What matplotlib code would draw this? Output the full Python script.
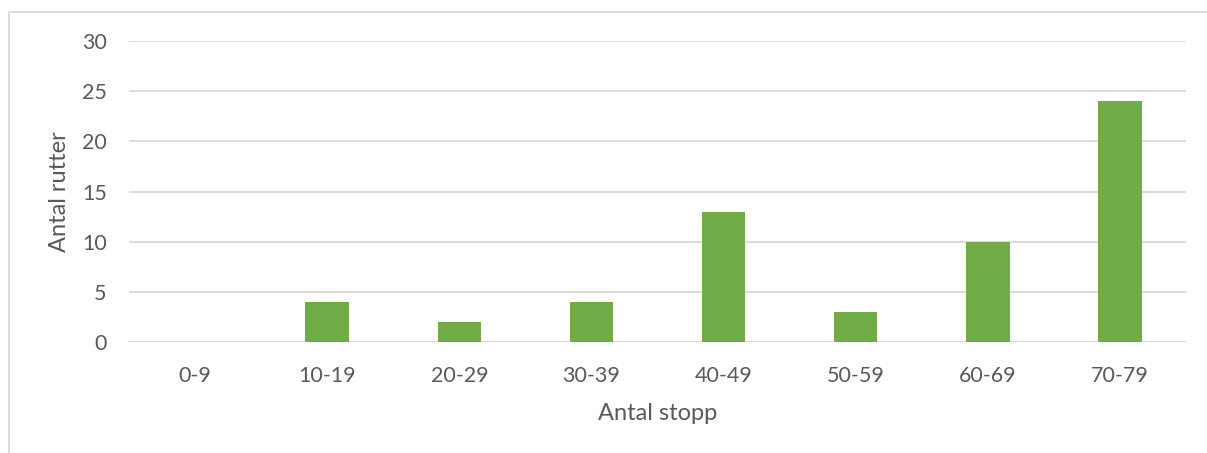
import matplotlib.pyplot as plt
from matplotlib.patches import Rectangle

# Antal rutter per intervall av stopp
kategorier = ['0-9', '10-19', '20-29', '30-39', '40-49', '50-59', '60-69', '70-79']
antal_rutter = [0, 4, 2, 4, 13, 3, 10, 24]
y_ticks = [0, 5, 10, 15, 20, 25, 30]

plt.rcParams['font.family'] = ['Lato', 'DejaVu Sans']
grå_text = '#595959'

W, H = 1207, 453
fig = plt.figure(figsize=(W / 100, H / 100), dpi=100)
ax_left, ax_right, ax_top, ax_bottom = 129, 1186, 41, 342
ax = fig.add_axes([ax_left / W, 1 - ax_bottom / H, (ax_right - ax_left) / W, (ax_bottom - ax_top) / H])

x = range(len(kategorier))
ax.bar(x, antal_rutter, width=0.33, color='#70AD47', zorder=3)

ax.set_xlim(-0.5, len(kategorier) - 0.5)
ax.set_ylim(0, 30)
ax.set_yticks(y_ticks)
ax.set_xticks(list(x))
ax.set_xticklabels(kategorier)
ax.grid(axis='y', color='#D9D9D9', linewidth=1.3, zorder=0)
ax.tick_params(length=0, labelsize=15.5, colors=grå_text)
ax.tick_params(axis='x', pad=17)
ax.tick_params(axis='y', pad=16)
for s in ax.spines.values():
    s.set_visible(False)

ax.set_xlabel('Antal stopp', fontsize=17, color=grå_text, va='center')
ax.set_ylabel('Antal rutter', fontsize=17, color=grå_text, va='center')
ax.xaxis.set_label_coords(0.5, (ax_bottom - 414) / (ax_bottom - ax_top))
ax.yaxis.set_label_coords((59 - ax_left) / (ax_right - ax_left), 0.5)

# Ram runt diagrammet
fig.patches.append(Rectangle((9 / W, -0.1), 1.2, 1.1 - 12 / H, transform=fig.transFigure,
                             fill=False, edgecolor='#D9D9D9', linewidth=1.3))

fig.savefig('out.png', dpi=100)
